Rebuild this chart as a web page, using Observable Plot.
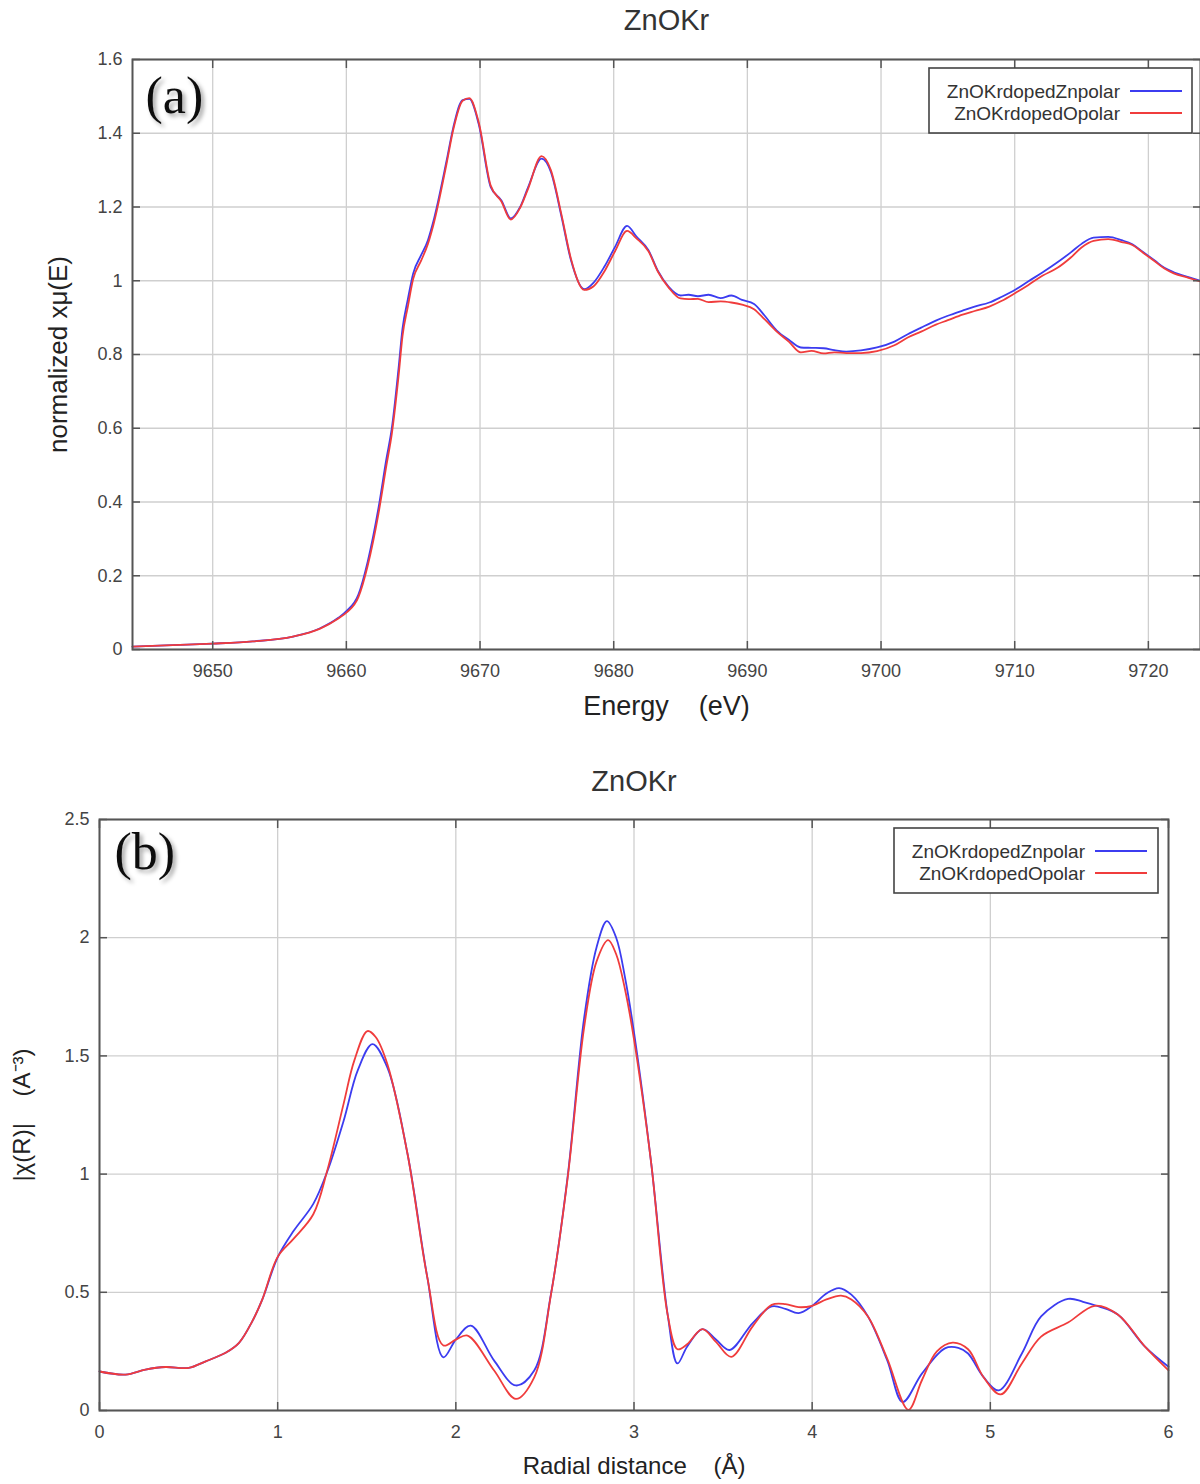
<!DOCTYPE html>
<html><head><meta charset="utf-8">
<script src="https://cdn.jsdelivr.net/npm/d3@7"></script>
<script src="https://cdn.jsdelivr.net/npm/@observablehq/plot@0.6"></script>
<style>
body{margin:0;background:#fff;}
#wrap{position:relative;width:1200px;height:1484px;overflow:hidden;background:#fff;}
#wrap svg{display:block;}
</style>
</head><body><div id="wrap"></div>
<script>
// ---------- Data ----------
const seriesNames = ["ZnOKrdopedZnpolar", "ZnOKrdopedOpolar"];
const seriesColors = ["#3c3cf0", "#f03c3c"];

// Panel (a): XANES, energy (eV) vs normalized xμ(E)
const energy = [9644.0, 9647, 9650, 9653, 9656, 9658, 9659.4, 9660, 9660.9, 9661.6,
  9662.4, 9663.0, 9663.4, 9663.9, 9664.2, 9664.6, 9665.0, 9665.6, 9666.1, 9666.5,
  9667.5, 9668.0, 9668.7, 9669.2, 9669.9, 9670.8, 9671.6, 9672.3, 9673.0, 9673.6,
  9674.6, 9675.3, 9676.1, 9676.8, 9677.8, 9678.5, 9679.3, 9680.1, 9681.0, 9681.7,
  9682.6, 9683.3, 9684.1, 9685.0, 9685.6, 9686.3, 9687.1, 9688.0, 9688.8, 9689.6,
  9690.5, 9691.3, 9692.2, 9693.1, 9694.0, 9694.8, 9695.7, 9696.5, 9697.4, 9698.5,
  9699.7, 9701.0, 9702.0, 9703.0, 9704.1, 9705.0, 9706.1, 9707.0, 9708.1, 9709.0,
  9710.1, 9711.0, 9712.1, 9713.2, 9714.2, 9715.0, 9715.9, 9717.0, 9718.0, 9718.8,
  9719.6, 9720.5, 9721.2, 9721.9, 9723.0, 9723.9];
const muZnPolar = [0.008, 0.012, 0.016, 0.022, 0.035, 0.057, 0.086, 0.104, 0.149, 0.239,
  0.383, 0.518, 0.600, 0.761, 0.870, 0.950, 1.020, 1.070, 1.110, 1.160,
  1.326, 1.416, 1.490, 1.493, 1.425, 1.254, 1.218, 1.169, 1.200, 1.254,
  1.331, 1.295, 1.173, 1.056, 0.977, 0.995, 1.038, 1.092, 1.149, 1.120,
  1.083, 1.027, 0.984, 0.960, 0.962, 0.958, 0.962, 0.953, 0.960, 0.948,
  0.937, 0.905, 0.865, 0.840, 0.819, 0.818, 0.817, 0.812, 0.808, 0.811,
  0.819, 0.835, 0.855, 0.873, 0.892, 0.905, 0.919, 0.930, 0.941, 0.956,
  0.977, 0.998, 1.023, 1.050, 1.077, 1.100, 1.117, 1.119, 1.110, 1.099,
  1.078, 1.054, 1.035, 1.023, 1.010, 1.000];
const muOPolar = [0.008, 0.012, 0.016, 0.022, 0.035, 0.056, 0.084, 0.100, 0.142, 0.228,
  0.368, 0.500, 0.585, 0.740, 0.850, 0.930, 1.005, 1.055, 1.100, 1.150,
  1.318, 1.410, 1.488, 1.495, 1.430, 1.258, 1.215, 1.166, 1.198, 1.250,
  1.338, 1.300, 1.178, 1.060, 0.975, 0.985, 1.025, 1.080, 1.135, 1.115,
  1.080, 1.025, 0.982, 0.952, 0.950, 0.951, 0.942, 0.944, 0.941, 0.935,
  0.923, 0.895, 0.862, 0.835, 0.806, 0.810, 0.803, 0.806, 0.804, 0.804,
  0.809, 0.825, 0.846, 0.862, 0.881, 0.893, 0.908, 0.918, 0.930, 0.945,
  0.968, 0.988, 1.014, 1.035, 1.063, 1.090, 1.108, 1.113, 1.105, 1.097,
  1.076, 1.052, 1.033, 1.020, 1.008, 0.998];

// Panel (b): |χ(R)| vs radial distance (Å)
const rZnPolar = [0, 0.146, 0.258, 0.37, 0.50, 0.596, 0.708, 0.783, 0.858, 0.914,
  1.00, 1.09, 1.20, 1.28, 1.37, 1.45, 1.532, 1.616, 1.729, 1.84,
  1.93, 2.00, 2.084, 2.215, 2.337, 2.44, 2.534, 2.627, 2.72, 2.79,
  2.848, 2.90, 2.95, 3.00, 3.096, 3.19, 3.244, 3.298, 3.384, 3.46,
  3.536, 3.665, 3.773, 3.85, 3.924, 4.00, 4.08, 4.151, 4.22, 4.313,
  4.421, 4.508, 4.616, 4.745, 4.82, 4.875, 4.961, 5.047, 5.177, 5.285,
  5.436, 5.52, 5.609, 5.717, 5.868, 6.00];
const chiZnPolar = [0.165, 0.152, 0.173, 0.184, 0.18, 0.208, 0.244, 0.286, 0.378, 0.47,
  0.648, 0.76, 0.874, 1.014, 1.225, 1.44, 1.55, 1.45, 1.085, 0.563,
  0.225, 0.30, 0.359, 0.211, 0.106, 0.169, 0.493, 0.986, 1.66, 1.96,
  2.07, 2.00, 1.83, 1.60, 1.05, 0.40, 0.199, 0.27, 0.344, 0.30,
  0.256, 0.369, 0.44, 0.43, 0.412, 0.443, 0.495, 0.518, 0.49, 0.398,
  0.213, 0.036, 0.156, 0.263, 0.265, 0.241, 0.142, 0.085, 0.241, 0.398,
  0.472, 0.46, 0.44, 0.405, 0.27, 0.185];
const rOPolar = [0, 0.146, 0.258, 0.37, 0.50, 0.596, 0.708, 0.783, 0.858, 0.914,
  1.00, 1.09, 1.20, 1.28, 1.37, 1.43, 1.504, 1.55, 1.616, 1.729,
  1.84, 1.93, 2.00, 2.066, 2.215, 2.337, 2.44, 2.534, 2.627, 2.72,
  2.79, 2.855, 2.90, 2.95, 3.00, 3.096, 3.19, 3.244, 3.298, 3.384,
  3.46, 3.546, 3.665, 3.773, 3.85, 3.924, 4.00, 4.08, 4.162, 4.22,
  4.313, 4.421, 4.54, 4.616, 4.70, 4.788, 4.875, 4.961, 5.058, 5.177,
  5.285, 5.436, 5.587, 5.717, 5.868, 6.00];
const chiOPolar = [0.165, 0.152, 0.173, 0.184, 0.18, 0.208, 0.244, 0.286, 0.378, 0.47,
  0.65, 0.727, 0.83, 1.02, 1.297, 1.48, 1.605, 1.58, 1.465, 1.085,
  0.563, 0.275, 0.30, 0.317, 0.169, 0.049, 0.14, 0.49, 0.98, 1.62,
  1.90, 1.99, 1.93, 1.78, 1.57, 1.05, 0.40, 0.259, 0.28, 0.344,
  0.29, 0.227, 0.355, 0.447, 0.45, 0.437, 0.443, 0.47, 0.486, 0.47,
  0.398, 0.22, 0.003, 0.128, 0.25, 0.287, 0.259, 0.142, 0.068, 0.199,
  0.3125, 0.372, 0.443, 0.405, 0.27, 0.17];

const energyTicks = [9650, 9660, 9670, 9680, 9690, 9700, 9710, 9720];
const muTicks = [0, 0.2, 0.4, 0.6, 0.8, 1, 1.2, 1.4, 1.6];
const rTicks = [0, 1, 2, 3, 4, 5, 6];
const chiTicks = [0, 0.5, 1, 1.5, 2, 2.5];

// ---------- Build tidy tables ----------
const tableA = energy.flatMap((e, i) => [
  {x: e, y: muZnPolar[i], s: seriesNames[0]},
  {x: e, y: muOPolar[i], s: seriesNames[1]}
]);
const tableB = [
  ...rZnPolar.map((r, i) => ({x: r, y: chiZnPolar[i], s: seriesNames[0]})),
  ...rOPolar.map((r, i) => ({x: r, y: chiOPolar[i], s: seriesNames[1]}))
];

const FONT = "'Liberation Sans', Arial, sans-serif";
const SERIF = "'Liberation Serif', 'Times New Roman', serif";
const fmt = d3.format("~g");
const GRID = "#cfcfcf";
const FRAME = "#555";
const TICKTXT = "#444";

function panel({data, xDomain, yDomain, xTicks, yTicks, height, margins, title, xLabel, yLabel, tag, tagDx, tagDy, curve, titleDy, xLabelDy, yLabelDx, yLabelSize, xLabelSize}) {
  return Plot.plot({
    width: 1200, height,
    marginTop: margins[0], marginRight: margins[1], marginBottom: margins[2], marginLeft: margins[3],
    style: {fontFamily: FONT, background: "white", overflow: "visible"},
    x: {domain: xDomain},
    y: {domain: yDomain},
    color: {domain: seriesNames, range: seriesColors},
    marks: [
      Plot.gridX({ticks: xTicks, stroke: GRID, strokeOpacity: 1, strokeWidth: 1.3}),
      Plot.gridY({ticks: yTicks, stroke: GRID, strokeOpacity: 1, strokeWidth: 1.3}),
      Plot.line(data, {x: "x", y: "y", z: "s", stroke: "s", strokeWidth: 1.8, curve}),
      Plot.axisX({ticks: xTicks, anchor: "bottom", tickSize: -8, tickPadding: 23, fontSize: 18, color: TICKTXT, stroke: FRAME, strokeWidth: 1.5, tickFormat: fmt, label: null}),
      Plot.axisX({ticks: xTicks, anchor: "top", tickSize: -8, text: null, stroke: FRAME, strokeWidth: 1.5, label: null}),
      Plot.axisY({ticks: yTicks, anchor: "left", tickSize: -8, tickPadding: 18, fontSize: 18, color: TICKTXT, stroke: FRAME, strokeWidth: 1.5, tickFormat: fmt, label: null}),
      Plot.axisY({ticks: yTicks, anchor: "right", tickSize: -8, text: null, stroke: FRAME, strokeWidth: 1.5, label: null}),
      Plot.frame({stroke: FRAME, strokeWidth: 2}),
      Plot.text([title], {frameAnchor: "top", dy: titleDy, lineAnchor: "middle", fontSize: 29, fill: "#333"}),
      Plot.text([xLabel], {frameAnchor: "bottom", dy: xLabelDy, lineAnchor: "middle", fontSize: xLabelSize, fill: "#222"}),
      Plot.text([yLabel], {frameAnchor: "left", textAnchor: "middle", dx: yLabelDx, rotate: -90, lineAnchor: "middle", fontSize: yLabelSize, fill: "#222"}),
      Plot.text([tag], {frameAnchor: "top-left", textAnchor: "start", dx: tagDx, dy: tagDy, lineAnchor: "middle", fontSize: 52, fontFamily: SERIF, fill: "#111", className: "panel-label"})
    ]
  });
}

function decorate(svg, id, box) {
  const s = d3.select(svg);
  const defs = s.append("defs");
  const f = defs.append("filter").attr("id", id).attr("x", "-30%").attr("y", "-30%").attr("width", "170%").attr("height", "170%");
  f.append("feDropShadow").attr("dx", 3).attr("dy", 3).attr("stdDeviation", 2).attr("flood-color", "#000").attr("flood-opacity", 0.35);
  s.selectAll(".panel-label").attr("filter", `url(#${id})`);
  // legend
  const g = s.append("g").attr("font-family", FONT);
  g.append("rect").attr("x", box.x).attr("y", box.y).attr("width", box.w).attr("height", box.h)
    .attr("fill", "white").attr("stroke", "#444").attr("stroke-width", 1.6);
  seriesNames.forEach((name, i) => {
    const yy = box.y + box.row0 + i * box.rowGap;
    g.append("text").attr("x", box.textRight).attr("y", yy).attr("dy", "0.35em")
      .attr("text-anchor", "end").attr("font-size", 19).attr("fill", "#333").text(name);
    g.append("line").attr("x1", box.lx1).attr("x2", box.lx2).attr("y1", yy).attr("y2", yy)
      .attr("stroke", seriesColors[i]).attr("stroke-width", 1.8);
  });
}

const wrap = document.getElementById("wrap");

const svgA = panel({
  data: tableA, xDomain: [9644.0, 9723.9], yDomain: [0, 1.6],
  xTicks: energyTicks, yTicks: muTicks, height: 740, margins: [59, 0, 91, 132],
  title: "ZnOKr", xLabel: "Energy\u00a0\u00a0\u00a0\u00a0(eV)", yLabel: "normalized xμ(E)",
  tag: "(a)", tagDx: 13, tagDy: 37, curve: "monotone-x",
  titleDy: -39, xLabelDy: 57, yLabelDx: -74, yLabelSize: 26, xLabelSize: 27
});
decorate(svgA, "shadowA", {x: 929, y: 68, w: 263, h: 65, row0: 23, rowGap: 22, textRight: 1120, lx1: 1130, lx2: 1182});
wrap.appendChild(svgA);

const svgB = panel({
  data: tableB, xDomain: [0, 6], yDomain: [0, 2.5],
  xTicks: rTicks, yTicks: chiTicks, height: 744, margins: [79, 32, 74, 99],
  title: "ZnOKr", xLabel: "Radial distance\u00a0\u00a0\u00a0\u00a0(Å)", yLabel: "|χ(R)|\u00a0\u00a0\u00a0\u00a0(A⁻³)",
  tag: "(b)", tagDx: 15, tagDy: 33, curve: "catmull-rom",
  titleDy: -38, xLabelDy: 56, yLabelDx: -77, yLabelSize: 24, xLabelSize: 24
});
decorate(svgB, "shadowB", {x: 894, y: 88, w: 264, h: 65, row0: 23, rowGap: 22, textRight: 1085, lx1: 1095, lx2: 1147});
wrap.appendChild(svgB);
</script>
</body></html>
